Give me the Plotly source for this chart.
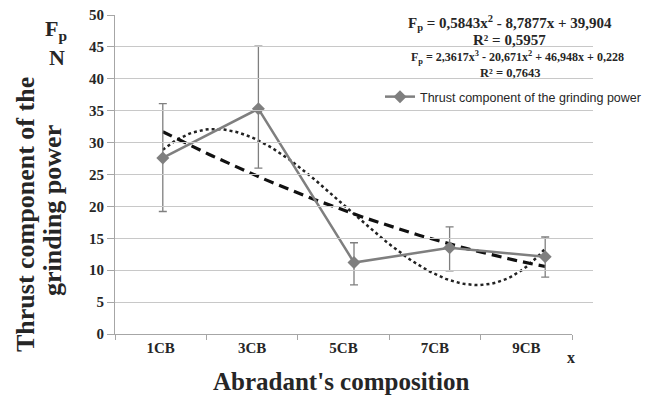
import plotly.graph_objects as go

categories = ["1CB", "3CB", "5CB", "7CB", "9CB"]
x_pos = [1, 2, 3, 4, 5]
thrust = [27.6, 35.3, 11.2, 13.5, 12.1]
err_plus = [8.5, 9.8, 3.1, 3.3, 3.1]
err_minus = [8.4, 9.3, 3.5, 3.6, 3.2]
quad_coef = [0.5843, -8.7877, 39.904]          # a2, a1, a0
cubic_coef = [2.3617, -20.671, 46.948, 0.228]  # a3, a2, a1, a0
y_ticks = [0, 5, 10, 15, 20, 25, 30, 35, 40, 45, 50]

W, H = 646, 399
L, R, T, B = 115, 593, 15, 334


def px(xp):
    return (xp - L) / (R - L)


def py(yp):
    return (B - yp) / (B - T)


def poly(coefs, x):
    n = len(coefs) - 1
    return sum(c * x ** (n - i) for i, c in enumerate(coefs))


xs = [1 + i * 0.04 for i in range(101)]
quad_y = [poly(quad_coef, x) for x in xs]
cubic_y = [poly(cubic_coef, x) for x in xs]

SERIF = "Liberation Serif"
GRAY = "#7f7f7f"
TXT = "#262626"

fig = go.Figure()
# dummy trace for the category axis (drawn first)
fig.add_trace(go.Scatter(x=categories, y=[None] * 5, xaxis="x2", yaxis="y",
                         mode="markers", showlegend=False, hoverinfo="skip"))
fig.add_trace(go.Scatter(x=xs, y=cubic_y, mode="lines",
                         line=dict(color="#222222", width=2.5, dash="dot"),
                         showlegend=False, hoverinfo="skip"))
fig.add_trace(go.Scatter(x=xs, y=quad_y, mode="lines",
                         line=dict(color="#111111", width=3.2, dash="10px,6px"),
                         showlegend=False, hoverinfo="skip"))
fig.add_trace(go.Scatter(
    x=x_pos, y=thrust, mode="lines+markers",
    name="Thrust component of the grinding power",
    line=dict(color=GRAY, width=2.5),
    marker=dict(symbol="diamond", size=10, color=GRAY),
    error_y=dict(type="data", symmetric=False, array=err_plus,
                 arrayminus=err_minus, color=GRAY, thickness=1.3, width=4),
))

fig.update_layout(
    width=W, height=H,
    margin=dict(l=L, r=W - R, t=T, b=H - B, pad=0, autoexpand=False),
    paper_bgcolor="white", plot_bgcolor="rgba(0,0,0,0)",
    showlegend=True,
    legend=dict(x=px(380), y=py(97), xanchor="left", yanchor="middle",
                bgcolor="rgba(0,0,0,0)", itemwidth=30,
                font=dict(family="Liberation Sans Narrow, Liberation Sans", size=12.5, color=TXT)),
    xaxis=dict(range=[0.5, 5.5], domain=[0, 1], showgrid=False, zeroline=False,
               showticklabels=False, ticks="", showline=False),
    xaxis2=dict(type="category", categoryarray=categories, categoryorder="array",
                range=[-0.5, 4.5], domain=[0, px(572)], anchor="y",
                tickson="boundaries", ticks="outside", ticklen=5, tickcolor="#a6a6a6",
                showline=True, linecolor="#a6a6a6", linewidth=1.2, showgrid=False,
                tickfont=dict(family=SERIF, size=15, color=TXT, weight="bold")),
    yaxis=dict(range=[0, 50], tickvals=y_ticks, showgrid=True, gridcolor="#c8c8c8",
               gridwidth=1.3, zeroline=False, showline=True, linecolor="#a6a6a6",
               linewidth=1.2, ticks="outside", ticklen=7, tickcolor="#a6a6a6",
               tickfont=dict(family=SERIF, size=15, color=TXT, weight="bold")),
)

ann = []


def add(text, x, y, size, rot=0, family=SERIF, bold=True, xanchor="center"):
    ann.append(dict(text=("<b>" + text + "</b>") if bold else text, x=px(x), y=py(y),
                    xref="paper", yref="paper", showarrow=False, textangle=rot,
                    xanchor=xanchor, yanchor="middle",
                    font=dict(family=family, size=size, color=TXT)))


add("Thrust component of the", 26, 215, 26, rot=-90)
add("grinding power", 52, 210, 26, rot=-90)
add("F<sub>p</sub>", 56, 30, 22)
add("N", 57, 57, 22)
add("Abradant's composition", 341, 382, 25)
add("x", 571, 357, 16)
add("F<sub>p</sub> = 0,5843x<sup>2</sup> - 8,7877x + 39,904", 510, 23, 15)
add("R² = 0,5957", 509, 40, 15)
add("F<sub>p</sub> = 2,3617x<sup>3</sup> - 20,671x<sup>2</sup> + 46,948x + 0,228", 517, 57, 12)
add("R² = 0,7643", 510, 73, 12.5)
fig.update_layout(annotations=ann)

fig.write_html("out.html")
